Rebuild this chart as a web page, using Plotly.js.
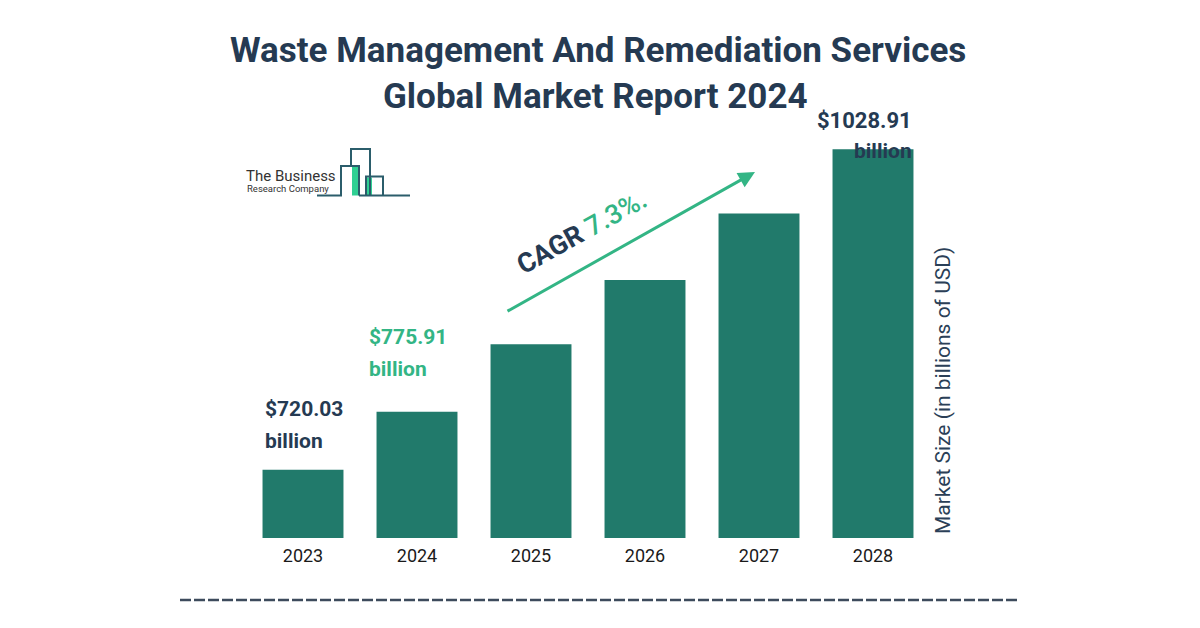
<!DOCTYPE html>
<html><head><meta charset="utf-8">
<script src="https://cdn.plot.ly/plotly-3.0.1.min.js"></script>
<style>html,body{margin:0;padding:0;background:#fff}#chart{width:1200px;height:628px}</style>
</head><body><div id="chart"></div>
<script>
const years = ['2023','2024','2025','2026','2027','2028'];
const marketSize = [720.03, 775.91, 841, 903, 967, 1028.91];
const titleLines = ['Waste Management And Remediation Services', 'Global Market Report 2024'];
const yTitle = 'Market Size (in billions of USD)';
const cagrText = 'CAGR';
const cagrValue = '7.3%.';

const W = 1200, H = 628, L = 246, R = 270, T = 100, B = 90;
const PW = W - L - R, PH = H - T - B;
const px = x => (x - L) / PW;
const py = y => (H - B - y) / PH;

const navy = '#253a52', green = '#33b585', barColor = '#217a6b';
const font = 'Roboto, "Open Sans", sans-serif';

const fmt = v => '$' + v.toFixed(2);

const ann = [];
ann.push({xref:'paper',yref:'paper',x:px(598),y:py(50),text:titleLines[0],showarrow:false,xanchor:'center',yanchor:'middle',font:{family:font,size:35,color:navy,weight:700}});
ann.push({xref:'paper',yref:'paper',x:px(595),y:py(97),text:titleLines[1],showarrow:false,xanchor:'center',yanchor:'middle',font:{family:font,size:35,color:navy,weight:700}});
// value labels
ann.push({xref:'paper',yref:'paper',x:px(263),y:py(409),text:fmt(marketSize[0]),showarrow:false,xanchor:'left',yanchor:'middle',font:{family:font,size:21,color:navy,weight:700}});
ann.push({xref:'paper',yref:'paper',x:px(263),y:py(441),text:'billion',showarrow:false,xanchor:'left',yanchor:'middle',font:{family:font,size:21,color:navy,weight:700}});
ann.push({xref:'paper',yref:'paper',x:px(367),y:py(337),text:fmt(marketSize[1]),showarrow:false,xanchor:'left',yanchor:'middle',font:{family:font,size:21,color:green,weight:700}});
ann.push({xref:'paper',yref:'paper',x:px(367),y:py(369),text:'billion',showarrow:false,xanchor:'left',yanchor:'middle',font:{family:font,size:21,color:green,weight:700}});
ann.push({xref:'paper',yref:'paper',x:px(914),y:py(120),text:fmt(marketSize[5]),showarrow:false,xanchor:'right',yanchor:'middle',font:{family:font,size:22,color:navy,weight:700}});
ann.push({xref:'paper',yref:'paper',x:px(914),y:py(151),text:'billion',showarrow:false,xanchor:'right',yanchor:'middle',font:{family:font,size:21,color:navy,weight:700}});
// y title
ann.push({xref:'paper',yref:'paper',x:px(943),y:py(391),text:yTitle,textangle:-90,showarrow:false,xanchor:'center',yanchor:'middle',font:{family:font,size:21,color:'#2b3f57'}});
// CAGR arrow
ann.push({xref:'paper',yref:'paper',axref:'paper',ayref:'paper',x:px(755),y:py(172),ax:px(506),ay:py(312),text:'',showarrow:true,arrowhead:2,arrowsize:1.1,arrowwidth:3,arrowcolor:green,standoff:0,startstandoff:0});
ann.push({xref:'paper',yref:'paper',x:px(582),y:py(232),text:cagrText+' <span style="color:'+green+';font-weight:500">'+cagrValue+'</span>',textangle:-29,showarrow:false,xanchor:'center',yanchor:'middle',font:{family:font,size:27,color:navy,weight:700}});
// logo text
ann.push({xref:'paper',yref:'paper',x:px(338),y:py(176),text:'The Business',showarrow:false,xanchor:'right',yanchor:'middle',font:{family:font,size:15,color:'#333'}});
ann.push({xref:'paper',yref:'paper',x:px(331),y:py(188),text:'Research Company',showarrow:false,xanchor:'right',yanchor:'middle',font:{family:font,size:9.5,color:'#333'}});

const lc = '#2b5d6b';
const shapes = [
  {type:'rect',xref:'paper',yref:'paper',x0:px(352),x1:px(358.5),y0:py(195.5),y1:py(167),fillcolor:'#2fd093',line:{width:0}},
  {type:'rect',xref:'paper',yref:'paper',x0:px(367),x1:px(372),y0:py(195.5),y1:py(177.5),fillcolor:'#2fd093',line:{width:0}},
  {type:'path',xref:'paper',yref:'paper',path:`M ${px(317)} ${py(195.5)} L ${px(341)} ${py(195.5)} L ${px(341)} ${py(166)} L ${px(359)} ${py(166)} L ${px(359)} ${py(195.5)} M ${px(351)} ${py(166)} L ${px(351)} ${py(149)} L ${px(370)} ${py(149)} L ${px(370)} ${py(195.5)} M ${px(366)} ${py(195.5)} L ${px(366)} ${py(176.5)} L ${px(383)} ${py(176.5)} L ${px(383)} ${py(195.5)} M ${px(359)} ${py(195.5)} L ${px(410)} ${py(195.5)}`,line:{color:lc,width:2}},
  {type:'line',xref:'paper',yref:'paper',x0:px(180),x1:px(1018),y0:py(600),y1:py(600),line:{color:'#3d4b5c',width:2.5,dash:'11px,3px'}}
];

const a = 1.0377, v0 = 654.35;
const yTop = v0 + PH / a;

Plotly.newPlot('chart', [{
  type:'bar', x:years, y:marketSize, base:0,
  marker:{color:barColor}, hoverinfo:'skip'
}], {
  width:W, height:H, margin:{l:L,r:R,t:T,b:B},
  paper_bgcolor:'#fff', plot_bgcolor:'#fff', showlegend:false, bargap:0.29,
  xaxis:{type:'category',showgrid:false,zeroline:false,showline:false,ticks:'',ticklabelstandoff:5,tickfont:{family:font,size:18,color:'#1a1a1a'}},
  yaxis:{range:[v0,yTop],visible:false,showgrid:false,zeroline:false},
  annotations:ann, shapes:shapes
}, {staticPlot:true});
</script></body></html>
